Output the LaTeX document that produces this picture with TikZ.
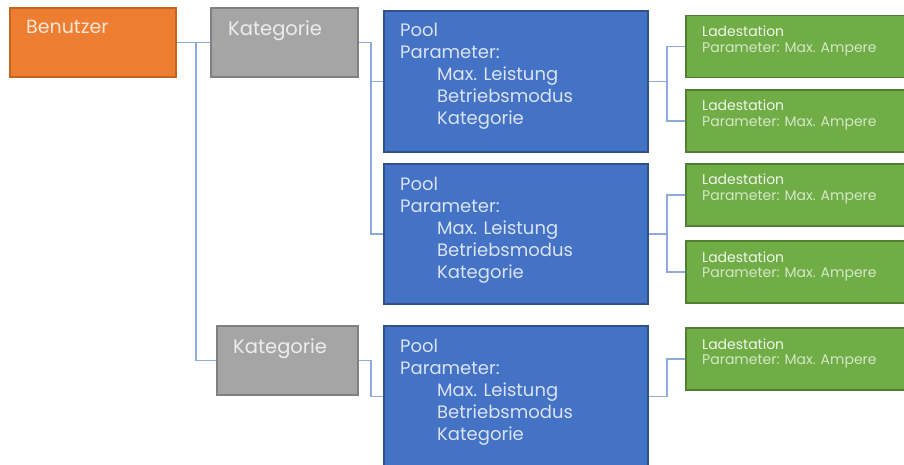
\documentclass[tikz,border=0pt]{standalone}
\usepackage{fontspec}
\setmainfont{Poppins}
\definecolor{orfill}{HTML}{ED7D31}
\definecolor{ordraw}{HTML}{C3641F}
\definecolor{grfill}{HTML}{A5A5A5}
\definecolor{grdraw}{HTML}{808080}
\definecolor{blfill}{HTML}{4472C4}
\definecolor{bldraw}{HTML}{2F528F}
\definecolor{gnfill}{HTML}{70AD47}
\definecolor{gndraw}{HTML}{507E32}
\definecolor{conn}{HTML}{8FAADC}
\definecolor{ortext}{HTML}{FBE5D6}
\definecolor{grtext}{HTML}{EDEDED}
\definecolor{bltext}{HTML}{DAE3F3}
\definecolor{gntext}{HTML}{F0F7EA}
\definecolor{gntextb}{HTML}{D3E8C5}
\tikzset{
  box/.style={draw, line width=1.6pt, inner sep=0pt, rectangle},
  obox/.style={box, fill=orfill, draw=ordraw},
  gbox/.style={box, fill=grfill, draw=grdraw},
  bbox/.style={box, fill=blfill, draw=bldraw, minimum width=264pt, minimum height=141pt},
  lbox/.style={box, fill=gnfill, draw=gndraw, minimum width=224pt, minimum height=62pt},
  con/.style={draw=conn, line width=1.3pt},
  bigtxt/.style={anchor=base west, inner sep=0pt, font=\fontsize{19.5}{22}\selectfont},
  pooltxt/.style={anchor=base west, inner sep=0pt, text=bltext, font=\fontsize{18}{22}\selectfont},
  ladtxt/.style={anchor=base west, inner sep=0pt, text=gntext, font=\fontsize{14}{17}\selectfont},
  ladtxtb/.style={ladtxt, text=gntextb},
}
\begin{document}
\begin{tikzpicture}[x=1pt, y=-1pt]
\useasboundingbox (0,0) rectangle (904,465);
\clip (0,0) rectangle (904,465);
% boxes
\node[obox, minimum width=166pt, minimum height=69pt] (ben) at (93,42.5) {};
\node[gbox, minimum width=147pt, minimum height=69pt] (kat1) at (284.5,42.5) {};
\node[gbox, minimum width=141pt, minimum height=69pt] (kat2) at (287.5,360.5) {};
\node[bbox] (pool1) at (516,81.5) {};
\node[bbox, minimum height=140pt] (pool2) at (516,234) {};
\node[bbox] (pool3) at (516,396.5) {};
\node[lbox] (l1) at (798,46.5) {};
\node[lbox] (l2) at (798,121) {};
\node[lbox] (l3) at (798,195) {};
\node[lbox] (l4) at (798,272) {};
\node[lbox] (l5) at (798,359) {};
% texts
\node[bigtxt, text=ortext, font=\fontsize{19}{22}\selectfont] (tben) at (26,34) {Benutzer};
\node[bigtxt, text=grtext] (tkat1) at (228,36) {Kategorie};
\node[bigtxt, text=grtext] (tkat2) at (233,353) {Kategorie};
\foreach \p/\y in {1/37, 2/190, 3/352}{
  \node[pooltxt] (tpa\p) at (400,\y) {Pool};
  \node[pooltxt] (tpb\p) at (400,\y+22) {Parameter:};
  \node[pooltxt] (tpc\p) at (437,\y+44) {Max. Leistung};
  \node[pooltxt] (tpd\p) at (437,\y+66) {Betriebsmodus};
  \node[pooltxt] (tpe\p) at (437,\y+88) {Kategorie};
}
\foreach \l/\y in {1/37, 2/111, 3/185, 4/262, 5/349}{
  \node[ladtxt] (tla\l) at (702,\y) {Ladestation};
  \node[ladtxtb] (tlb\l) at (702,\y+15.7) {Parameter: Max. Ampere};
}
% connectors
\coordinate (j1) at (196,42.5);
\coordinate (j2) at (371,42.5);
\coordinate (j3) at (371,360.5);
\coordinate (j4) at (667,81.5);
\coordinate (j5) at (667,234);
\coordinate (j6) at (667,396.5);
\draw[con] (ben.east) -- (kat1.west);
\draw[con] (j1) |- (kat2.west);
\draw[con] (kat1.east) -- (j2) |- (pool1.west);
\draw[con] (j2) |- (pool2.west);
\draw[con] (kat2.east) -- (j3) |- (pool3.west);
\draw[con] (pool1.east) -- (j4) |- (l1.west);
\draw[con] (j4) |- (l2.west);
\draw[con] (pool2.east) -- (j5) |- (l3.west);
\draw[con] (j5) |- (l4.west);
\draw[con] (pool3.east) -- (j6) |- (l5.west);
\end{tikzpicture}
\end{document}
